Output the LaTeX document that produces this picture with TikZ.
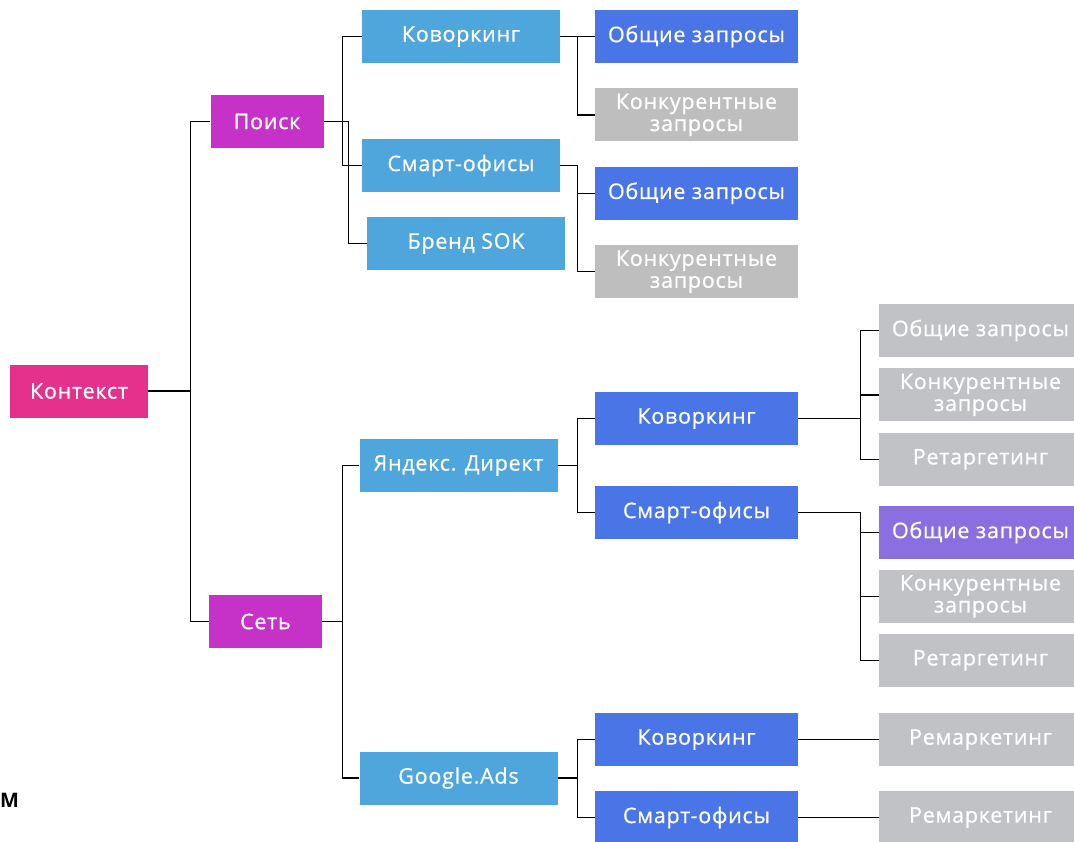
\documentclass[tikz,border=0pt]{standalone}
\usepackage{fontspec}
\setmainfont{Open Sans}[UprightFeatures={FakeBold=0.7},LetterSpace=3.5]
\usetikzlibrary{positioning}
\definecolor{rootpink}{HTML}{E5318B}
\definecolor{levelmag}{HTML}{C631C8}
\definecolor{skyblue}{HTML}{4FA6DC}
\definecolor{royalblue}{HTML}{4A75E6}
\definecolor{lightgrey}{HTML}{BEBEBE}
\definecolor{coolgrey}{HTML}{C1C2C6}
\definecolor{lilac}{HTML}{8A6FE0}
\tikzset{basic/.style={rectangle,inner sep=0pt,text=white,align=center,
  font=\fontsize{21.5}{22}\selectfont,minimum height=53pt}}
\tikzset{rootbox/.style={basic,fill=rootpink,minimum width=138pt}}
\tikzset{magbox/.style={basic,fill=levelmag,minimum width=113pt}}
\tikzset{skybox/.style={basic,fill=skyblue,minimum width=198pt}}
\tikzset{bluebox/.style={basic,fill=royalblue,minimum width=203pt}}
\tikzset{greybox/.style={basic,fill=lightgrey,minimum width=203pt}}
\tikzset{leafbox/.style={basic,fill=coolgrey,minimum width=203pt}}
\tikzset{link/.style={draw=black,line width=1.2pt}}

\begin{document}
\begin{tikzpicture}[
x = 1pt, y = -1pt, % pixel grid
node distance = 25pt
]
\clip (0,0) rectangle (1074,841);
\fill[white] (0,0) rectangle (1074,841);

% first levels
\node[rootbox] (ctx) at (79,391) {Контекст};
\node[magbox] (search) at (267,121.5) {Поиск};
\node[magbox] (net) at (265.5,621.5) {Сеть};

% search branch
\node[skybox] (scow) at (461,36.5) {Коворкинг};
\node[skybox] (ssmart) at (461,165.5) {Смарт-офисы};
\node[skybox] (sbrand) at (466,243.5) {Бренд SOK};
\node[bluebox] (scowq) at (696.5,36.5) {Общие запросы};
\node[greybox] (scowk) [below=of scowq] {Конкурентные\\запросы};
\node[bluebox] (ssmartq) [below=of scowk] {Общие запросы};
\node[greybox] (ssmartk) [below=of ssmartq] {Конкурентные\\запросы};

% network branch
\node[skybox] (yd) at (458.5,465.5) {Яндекс. Директ};
\node[skybox] (ga) at (458.5,778) {Google.Ads};
\node[bluebox] (ydcow) at (696.5,418.5) {Коворкинг};
\node[bluebox] (ydsmart) at (696.5,512.5) {Смарт-офисы};
\node[bluebox] (gacow) at (696.5,739.5) {Коворкинг};
\node[bluebox] (gasmart) at (696.5,817.5) {Смарт-офисы};

\node[leafbox] (ydcowq) at (980.5,330.5) {Общие запросы};
\node[leafbox] (ydcowk) [below=11pt of ydcowq] {Конкурентные\\запросы};
\node[leafbox] (ydcowr) [below=11pt of ydcowk] {Ретаргетинг};
\node[basic,fill=lilac,minimum width=203pt] (ydsmartq) at (980.5,532.5) {Общие запросы};
\node[leafbox] (ydsmartk) [below=10.5pt of ydsmartq] {Конкурентные\\запросы};
\node[leafbox] (ydsmartr) [below=10.5pt of ydsmartk] {Ретаргетинг};
\node[leafbox] (gacowr) at (980.5,739.5) {Ремаркетинг};
\node[leafbox] (gasmartr) at (980.5,817.5) {Ремаркетинг};

\node[anchor=west,inner sep=0pt,font=\fontsize{20}{22}\selectfont\bfseries] (cut) at (0,800) {М};

% connectors
\draw[link] (ctx.east) -- ++(42,0) |- (search.west);
\draw[link] (ctx.east) -- ++(42,0) |- (net.west);
\draw[link] (search.east) -- ++(25,0) |- (sbrand.west);
\draw[link] (scow.west) -- ++(-19,0) |- (ssmart.west);
\draw[link] (scow.east) -- ++(17,0) |- (scowq.west);
\draw[link] (scow.east) -- ++(17,0) |- (scowk.west);
\draw[link] (ssmart.east) -- ++(17,0) |- (ssmartq.west);
\draw[link] (ssmart.east) -- ++(17,0) |- (ssmartk.west);
\draw[link] (net.east) -- ++(20,0) |- (yd.west);
\draw[link] (net.east) -- ++(20,0) |- (ga.west);
\draw[link] (yd.east) -- ++(20,0) |- (ydcow.west);
\draw[link] (yd.east) -- ++(20,0) |- (ydsmart.west);
\draw[link] (ga.east) -- ++(20,0) |- (gacow.west);
\draw[link] (ga.east) -- ++(20,0) |- (gasmart.west);
\foreach \leaf in {ydcowq,ydcowk,ydcowr}
  \draw[link] (ydcow.east) -- ++(62,0) |- (\leaf.west);
\foreach \leaf in {ydsmartq,ydsmartk,ydsmartr}
  \draw[link] (ydsmart.east) -- ++(62,0) |- (\leaf.west);
\draw[link] (gacow) -- (gacowr);
\draw[link] (gasmart) -- (gasmartr);
\end{tikzpicture}
\end{document}
